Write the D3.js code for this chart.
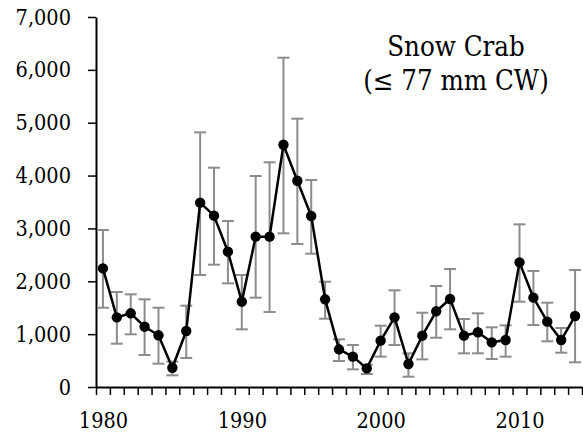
<!DOCTYPE html>
<html>
<head>
<meta charset="utf-8">
<script src="https://cdn.jsdelivr.net/npm/d3@7"></script>
<style>
  body { margin: 0; background: #fff; }
</style>
</head>
<body>
<div id="vis"></div>
<script>
const FRAME_WIDTH = 583;
const FRAME_HEIGHT = 432;
const MARGINS = {left: 96, right: 1, top: 17, bottom: 45};
const FONT = "DejaVu Serif";
const SQUEEZE = 0.88; // narrow the serif glyphs a bit

// survey years
const YEARS = d3.range(1980, 2015);
// abundance (millions)
const VALUES = [2245, 1318, 1394, 1141, 978, 365, 1059, 3487, 3241, 2560,
                1614, 2844, 2844, 4584, 3903, 3235, 1659, 713, 574, 353,
                877, 1318, 435, 971, 1432, 1665, 971, 1035, 845, 889,
                2358, 1690, 1236, 889, 1343];
// error bar upper / lower limits
const UPPER = [2970, 1797, 1753, 1659, 1500, 480, 1538, 4818, 4149, 3140,
               2119, 3992, 4251, 6230, 5076, 3916, 1992, 902, 795, 420,
               1160, 1829, 637, 1406, 1911, 2232, 1286, 1394, 1129, 1166,
               3077, 2195, 1595, 1116, 2213];
const LOWER = [1500, 819, 997, 605, 441, 221, 549, 2119, 2314, 1961,
               1091, 1690, 1419, 2907, 2705, 2522, 1292, 492, 334, 246,
               574, 795, 195, 523, 933, 1091, 637, 637, 530, 574,
               1614, 1173, 864, 649, 467];
const Y_TICKS = [0, 1000, 2000, 3000, 4000, 5000, 6000, 7000];
const X_LABELS = [1980, 1990, 2000, 2010];
const TITLE = ["Snow Crab", "(\u2264 77 mm CW)"];

const data = YEARS.map((y, i) => ({year: y, value: VALUES[i], hi: UPPER[i], lo: LOWER[i]}));

const FRAME = d3.select("#vis")
                .append("svg")
                  .attr("width", FRAME_WIDTH)
                  .attr("height", FRAME_HEIGHT);

const X_SCALE = d3.scaleLinear()
                  .domain([1979.5, 2014.5])
                  .range([MARGINS.left, FRAME_WIDTH - MARGINS.right]);
const Y_SCALE = d3.scaleLinear()
                  .domain([0, 7000])
                  .range([FRAME_HEIGHT - MARGINS.bottom, MARGINS.top]);

const BOTTOM = FRAME_HEIGHT - MARGINS.bottom;

function squeeze(sel) {
  sel.each(function() {
    const w = this.getComputedTextLength();
    d3.select(this).attr("textLength", w * SQUEEZE)
                   .attr("lengthAdjust", "spacingAndGlyphs");
  });
}

// x axis: ticks between categories, labels every 10 years
const xAxis = FRAME.append("g")
      .attr("transform", "translate(0," + BOTTOM + ")")
      .call(d3.axisBottom(X_SCALE)
              .tickValues(d3.range(1979.5, 2015, 1))
              .tickSize(8)
              .tickSizeOuter(0)
              .tickFormat(""));
xAxis.select(".domain").attr("stroke-width", 2);
xAxis.selectAll(".tick line").attr("stroke-width", 1.5);

const xLabels = FRAME.append("g")
      .attr("transform", "translate(0," + BOTTOM + ")")
      .call(d3.axisBottom(X_SCALE)
              .tickValues(X_LABELS)
              .tickSize(0)
              .tickPadding(25)
              .tickFormat(d3.format("d")));
xLabels.select(".domain").remove();
xLabels.attr("font-family", FONT).attr("font-size", 22);
xLabels.selectAll("text").call(squeeze);

// y axis
const yAxis = FRAME.append("g")
      .attr("transform", "translate(" + MARGINS.left + ",0)")
      .call(d3.axisLeft(Y_SCALE)
              .tickValues(Y_TICKS)
              .tickSize(8)
              .tickSizeOuter(0)
              .tickPadding(17)
              .tickFormat(d3.format(",")));
yAxis.select(".domain").attr("stroke-width", 2);
yAxis.selectAll(".tick line").attr("stroke-width", 1.5);
yAxis.attr("font-family", FONT).attr("font-size", 22);
yAxis.selectAll("text").call(squeeze);

// error bars
const bars = FRAME.append("g")
      .attr("stroke", "#8c8c8c")
      .attr("stroke-width", 2);
bars.selectAll(".whisker")
    .data(data)
    .enter()
    .append("line")
      .attr("x1", d => X_SCALE(d.year))
      .attr("x2", d => X_SCALE(d.year))
      .attr("y1", d => Y_SCALE(d.hi))
      .attr("y2", d => Y_SCALE(d.lo));
bars.selectAll(".capHi")
    .data(data)
    .enter()
    .append("line")
      .attr("x1", d => X_SCALE(d.year) - 6)
      .attr("x2", d => X_SCALE(d.year) + 6)
      .attr("y1", d => Y_SCALE(d.hi))
      .attr("y2", d => Y_SCALE(d.hi));
bars.selectAll(".capLo")
    .data(data)
    .enter()
    .append("line")
      .attr("x1", d => X_SCALE(d.year) - 6)
      .attr("x2", d => X_SCALE(d.year) + 6)
      .attr("y1", d => Y_SCALE(d.lo))
      .attr("y2", d => Y_SCALE(d.lo));

// line + markers
const line = d3.line()
               .x(d => X_SCALE(d.year))
               .y(d => Y_SCALE(d.value));
FRAME.append("path")
     .datum(data)
     .attr("d", line)
     .attr("fill", "none")
     .attr("stroke", "#000")
     .attr("stroke-width", 2.5)
     .attr("stroke-linejoin", "round");

FRAME.selectAll(".pt")
     .data(data)
     .enter()
     .append("circle")
       .attr("cx", d => X_SCALE(d.year))
       .attr("cy", d => Y_SCALE(d.value))
       .attr("r", 5.2)
       .attr("fill", "#000");

// title
FRAME.selectAll(".title")
     .data(TITLE)
     .enter()
     .append("text")
       .attr("x", 456)
       .attr("y", (d, i) => 56 + i * 34)
       .attr("text-anchor", "middle")
       .attr("font-family", FONT)
       .attr("font-size", 28)
       .text(d => d)
       .call(squeeze);
</script>
</body>
</html>
